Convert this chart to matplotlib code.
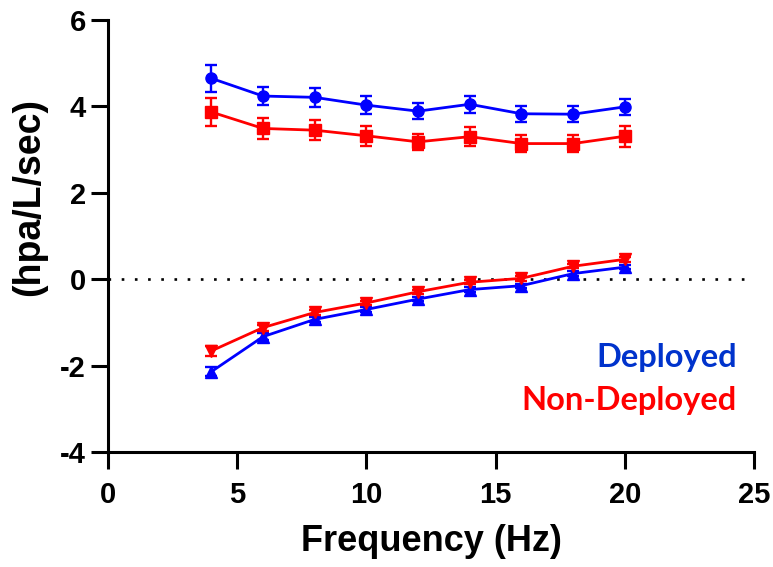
import matplotlib; matplotlib.use('Agg')
import matplotlib.pyplot as plt

# frequencies (Hz)
freq = [4, 6, 8, 10, 12, 14, 16, 18, 20]

# upper pair (circles / squares)
dep_hi      = [4.65, 4.24, 4.21, 4.03, 3.89, 4.05, 3.83, 3.82, 3.99]
dep_hi_err  = [0.32, 0.21, 0.22, 0.21, 0.19, 0.20, 0.19, 0.18, 0.19]
non_hi      = [3.87, 3.49, 3.45, 3.32, 3.18, 3.30, 3.14, 3.14, 3.31]
non_hi_err  = [0.33, 0.25, 0.23, 0.23, 0.19, 0.22, 0.20, 0.20, 0.24]

# lower pair (triangles)
dep_lo      = [-2.14, -1.33, -0.93, -0.70, -0.46, -0.24, -0.15, 0.13, 0.28]
dep_lo_err  = [0.10, 0.08, 0.05, 0.05, 0.05, 0.05, 0.05, 0.05, 0.05]
non_lo      = [-1.66, -1.12, -0.77, -0.55, -0.29, -0.07, 0.02, 0.30, 0.46]
non_lo_err  = [0.12, 0.07, 0.05, 0.05, 0.05, 0.05, 0.05, 0.05, 0.05]

BLUE = '#0000FF'
RED  = '#FF0000'

plt.rcParams['font.family'] = ['Liberation Sans', 'DejaVu Sans']
plt.rcParams['font.weight'] = 'bold'
plt.rcParams['axes.unicode_minus'] = False

fig = plt.figure(figsize=(7.73, 5.67), dpi=100)
ax = fig.add_axes([0.1397, 0.2028, 0.8357, 0.7619])

ax.plot([0, 25], [0, 0], color='black', lw=1.9, linestyle=(0, (1, 4)), zorder=1)

kw = dict(lw=2.0, elinewidth=1.7, capsize=4.5, capthick=1.7, markersize=8, zorder=3)
ax.errorbar(freq, dep_hi, yerr=dep_hi_err, color=BLUE, marker='o', **kw)
ax.errorbar(freq, non_hi, yerr=non_hi_err, color=RED, marker='s', **kw)
ax.errorbar(freq, dep_lo, yerr=dep_lo_err, color=BLUE, marker='^', **kw)
ax.errorbar(freq, non_lo, yerr=non_lo_err, color=RED, marker='v', **kw)

ax.set_xlim(0, 25)
ax.set_ylim(-4, 6)
ax.set_xticks([0, 5, 10, 15, 20, 25])
ax.set_yticks([-4, -2, 0, 2, 4, 6])
for s in ['top', 'right']:
    ax.spines[s].set_visible(False)
for s in ['left', 'bottom']:
    ax.spines[s].set_linewidth(2.2)
ax.tick_params(width=2.2, length=12, labelsize=21)
ax.tick_params(axis='y', pad=4)
ax.tick_params(axis='x', pad=9)

ax.set_xlabel('Frequency (Hz)', fontsize=26, fontweight='bold', labelpad=11)
ax.set_ylabel('(hpa/L/sec)', fontsize=27, fontweight='bold')
ax.yaxis.set_label_coords(-0.094, 0.59)

fig.text(0.9534, 0.3527, 'Deployed', color='#0033CC', fontsize=23.5, fontweight='bold',
         family=['Lato', 'DejaVu Sans'], ha='right', va='baseline')
fig.text(0.9534, 0.2769, 'Non-Deployed', color=RED, fontsize=23.5, fontweight='bold',
         family=['Lato', 'DejaVu Sans'], ha='right', va='baseline')

fig.savefig('out.png', dpi=100)
